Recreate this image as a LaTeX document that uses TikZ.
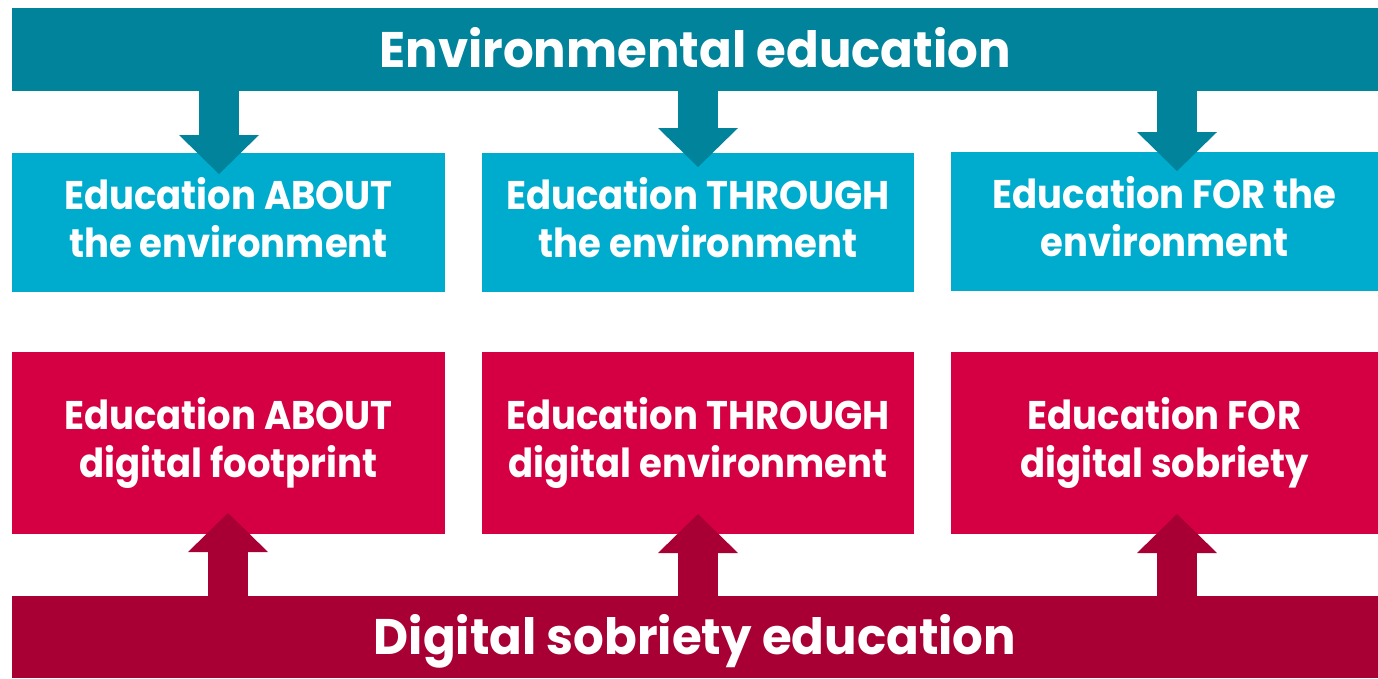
\documentclass[tikz,border=0pt]{standalone}
\usepackage{fontspec}
\setmainfont{Poppins}[FakeStretch=0.925]
\newfontfamily\titlefamily{Poppins}[FakeStretch=0.965]
\usetikzlibrary{arrows.meta}
\definecolor{envdark}{HTML}{00839B}
\definecolor{envlight}{HTML}{00ACCD}
\definecolor{digred}{HTML}{D40043}
\definecolor{digdark}{HTML}{A80034}
\newcommand{\ls}{\rule[-10pt]{0pt}{40pt}}
\begin{document}
\begin{tikzpicture}[x=1pt,y=-1pt,
  titlebar/.style={rectangle, inner sep=0pt, minimum width=1366pt, minimum height=83pt,
    text=white, font=\titlefamily\fontsize{50}{60}\selectfont\bfseries, text height=35pt, text depth=0pt},
  smallbox/.style={rectangle, inner sep=0pt, minimum height=139pt, text=white, align=center,
    font=\fontsize{40}{48}\selectfont\bfseries},
  envbox/.style={smallbox, fill=envlight},
  digbox/.style={smallbox, fill=digred, minimum height=182pt},
  downarrow/.style={draw=envdark, line width=40pt, -{Triangle[length=39pt,width=80pt,line width=0pt]}},
  uparrow/.style={draw=digdark, line width=40pt, -{Triangle[length=39pt,width=80pt,line width=0pt]}}
]
\useasboundingbox (0,0) rectangle (1378,678);
% top bar
\node[titlebar, fill=envdark] (env) at (695,49.5) {Environmental education};
% bottom bar
\node[titlebar, fill=digdark, minimum height=82pt] (dig) at (695,637) {Digital sobriety education};
% environment boxes
\node[envbox, minimum width=433pt] (e1) at (228.5,222.5) {\ls Education ABOUT\\\ls the environment};
\node[envbox, minimum width=432pt] (e2) at (698,222.5) {\ls Education THROUGH\\\ls the environment};
\node[envbox, minimum width=427pt] (e3) at (1164.5,221.5) {\ls Education FOR the\\\ls environment};
% digital boxes
\node[digbox, minimum width=433pt] (d1) at (228.5,443) {\ls Education ABOUT\\\ls digital footprint};
\node[digbox, minimum width=432pt] (d2) at (698,443) {\ls Education THROUGH\\\ls digital environment};
\node[digbox, minimum width=427pt] (d3) at (1164.5,443) {\ls Education FOR\\\ls digital sobriety};
% arrow end points
\coordinate (te1) at (219,174);
\coordinate (te2) at (698,167);
\coordinate (te3) at (1177,171);
\coordinate (td1) at (228,513);
\coordinate (td2) at (698,514);
\coordinate (td3) at (1177,514);
% down arrows
\draw[downarrow] (env.south -| te1) -- (te1);
\draw[downarrow] (env.south -| te2) -- (te2);
\draw[downarrow] (env.south -| te3) -- (te3);
% up arrows
\draw[uparrow] (dig.north -| td1) -- (td1);
\draw[uparrow] (dig.north -| td2) -- (td2);
\draw[uparrow] (dig.north -| td3) -- (td3);
\end{tikzpicture}
\end{document}
